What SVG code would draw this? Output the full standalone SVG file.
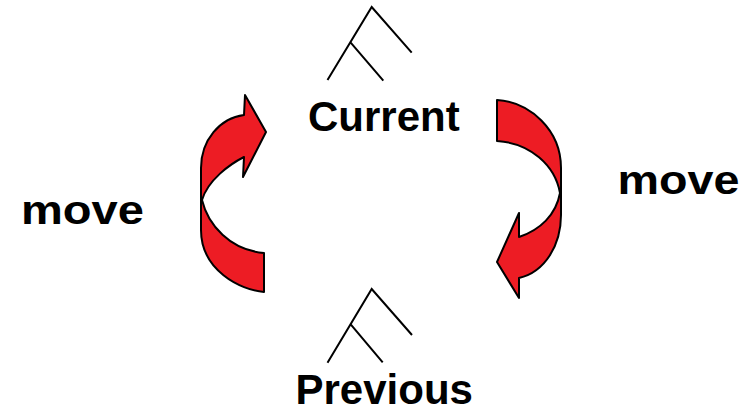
<svg xmlns="http://www.w3.org/2000/svg" width="749" height="416" viewBox="0 0 749 416">
<style>
.t{font-family:"Liberation Sans",Arial,sans-serif;font-weight:bold;fill:#000}
.tree{fill:none;stroke:#000;stroke-width:2}
.arr{fill:#ed1c24;stroke:#000;stroke-width:2;stroke-linejoin:round}
</style>
<rect width="749" height="416" fill="#fff"/>
<g id="current">
<path class="tree" d="M327.5 80 L371.7 7 L411.7 52.7 M350.7 42.7 L383.3 80.7"/>
<text class="t" x="308" y="131" font-size="42">Current</text>
</g>
<g id="previous">
<path class="tree" d="M327.5 362.7 L371.7 289 L412 335 M350.7 324.3 L382.7 362.3"/>
<text class="t" x="295.5" y="404" font-size="42">Previous</text>
</g>
<g id="connectors">
<path id="move-left-arrow" class="arr" d="M264 292 C240 290 201 270 201 230 L201 168 C201 140 220 118 244 115 L245 95 L266 132 L243 177 L244 157 C230 164 208 180 202 200 C208 225 230 250 264 253 Z"/>
<path id="move-right-arrow" class="arr" d="M497 100 C530 102 561 130 561 168 L561 215 C561 245 545 272 519 278 L519 298 L497 262 L519 213 L519 237 C540 230 556 215 560 193 C555 165 530 143 497 141 Z"/>
</g>
<g id="move-left">
<text class="t" x="21" y="224.3" font-size="40" textLength="123" lengthAdjust="spacingAndGlyphs">move</text>
</g>
<g id="move-right">
<text class="t" x="617.5" y="194.3" font-size="40" textLength="122" lengthAdjust="spacingAndGlyphs">move</text>
</g>
</svg>
